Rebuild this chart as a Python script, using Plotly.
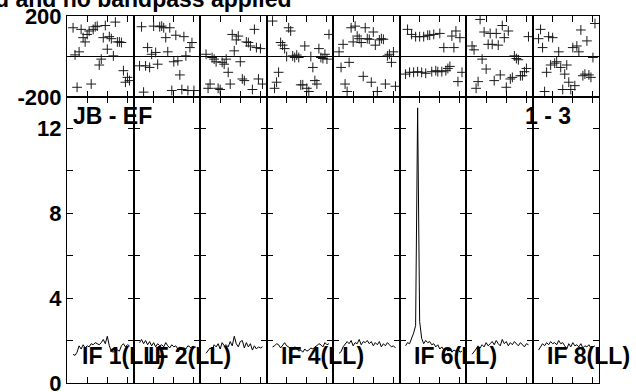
import plotly.graph_objects as go
from plotly.subplots import make_subplots

if_labels = ["IF 1(LL)", "IF 2(LL)", "", "IF 4(LL)", "", "IF 6(LL)", "", "IF 8(LL)"]
first_channel = 3

phase = [
    [142, 8, -152, 23, 134, 93, 72, 109, 126, -136, 134, 147, 150, -42, -13, 93, 153, 36, 98, 88, 3, 170, 72, 72, 69, -70, -127, -103, -119],
    [-46, 147, -176, -46, 44, -54, 11, 150, 20, -38, 147, 150, 142, 93, 23, 142, -168, -26, 105, -21, -91, -163, 98, 3, -168, 44, 69, -168],
    [11, -157, -136, -5, -13, -26, -157, -163, -29, -38, -13, -78, -136, 109, 28, 82, 101, -26, -111, -119, 72, 69, 52, -163, 134, 44, -111, 39, -136],
    [175, -157, -127, -78, 69, 56, 39, 0, 142, 126, 3, -5, 7, -5, -140, -140, 52, -157, -173, 0, -54, -119, -136, 39, -5, -10, 11, -13, 109],
    [23, -54, 60, -136, -173, -29, 142, 72, 150, 101, 88, 69, -98, 142, 88, 85, -127, 121, 56, -173, 82, 88, 85, -136, 3, 11, -29, 23, -147],
    [-87, 134, -78, 109, -78, 98, -75, 98, -78, 98, -83, 105, 105, -75, 109, -70, -75, 114, -75, 44, -70, -59, -49, 101, 44, 126, -124, 93, -78],
    [52, 33, -157, -124, 183, -13, 121, -62, 60, 114, 60, -119, 114, 56, -91, 153, 93, -152, 126, -111, -103, 3, -10, -16, -95, -95, -75, -59, 98],
    [88, 134, 44, -173, -78, 98, -42, 93, -33, -26, 23, -54, -163, -87, -42, -127, -163, 44, -144, 52, 23, 131, -95, -87, 77, -91, -103, -5, 163],
]

amplitude = [
    [1.35, 1.3, 1.45, 1.75, 1.6, 1.8, 1.65, 1.75, 1.7, 1.85, 1.8, 1.9, 1.85, 1.8, 1.9, 2.05, 1.85, 2.2, 1.75, 1.5, 1.45, 1.6, 1.55, 1.5, 1.75, 1.85, 1.7, 1.8, 1.75],
    [1.9, 2.05, 1.85, 2.0, 1.8, 1.95, 1.75, 1.9, 1.7, 1.85, 1.75, 1.8, 1.7, 1.9, 1.75, 1.65, 1.8, 1.7, 1.75, 1.6, 1.7, 1.55, 1.65, 1.6, 1.75, 1.7, 1.6, 1.65, 1.7],
    [1.4, 1.5, 1.65, 1.55, 1.8, 1.7, 1.85, 1.6, 1.9, 1.75, 1.8, 1.7, 1.95, 1.75, 2.2, 1.85, 1.7, 1.95, 2.0, 1.65, 1.9, 1.7, 1.85, 1.55, 1.75, 1.6, 1.7, 1.65, 1.7],
    [1.7, 1.75, 1.85, 1.8, 1.65, 1.8, 1.9, 1.75, 1.7, 1.6, 1.55, 1.7, 1.65, 1.5, 1.55, 1.45, 1.6, 1.5, 1.55, 1.65, 1.6, 1.7, 1.75, 1.85, 1.8, 1.7, 1.9, 1.8, 1.85],
    [1.4, 1.47, 1.7, 1.8, 1.95, 1.85, 2.0, 1.75, 1.9, 1.85, 2.05, 1.8, 1.95, 1.9, 2.0, 1.85, 1.95, 1.75, 1.9, 1.8, 1.95, 1.7, 1.85, 1.75, 1.9, 1.8, 1.7, 1.75, 1.65],
    [1.75, 1.9, 1.85, 2.1, 2.35, 2.7, 12.95, 2.9, 2.1, 1.85, 2.0, 1.9, 1.95, 1.8, 1.85, 1.7, 1.8, 1.6, 1.7, 1.55, 1.65, 1.5, 1.6, 1.45, 1.55, 1.5, 1.6, 1.45, 1.5],
    [1.35, 1.45, 1.6, 1.75, 1.65, 1.8, 1.7, 1.9, 1.75, 1.85, 1.95, 1.8, 2.0, 1.85, 1.75, 2.05, 1.85, 1.95, 1.75, 1.9, 1.8, 1.95, 1.85, 1.75, 1.9, 1.8, 1.7, 1.85, 1.8],
    [1.55, 1.7, 1.85, 1.75, 1.9, 1.8, 1.95, 1.85, 1.9, 1.8, 2.0, 1.85, 1.9, 1.75, 1.6, 1.85, 1.7, 1.9, 1.75, 1.8, 1.7, 1.85, 1.65, 1.75, 1.7, 1.8, 1.65, 1.7, 1.75],
]

phase_ticks = [-200, 0, 200]
phase_ticktext = ["-200", "", "200"]
amp_ticks = [0, 2, 4, 6, 8, 10, 12]
amp_ticktext = ["0", "", "4", "", "8", "", "12"]
chan_ticks = [10, 20, 30]

baseline_label = "JB - EF"
stokes_label = "1 - 3"
title_text = "d and no bandpass applied"

FONT = "Liberation Sans, Arial, Helvetica, sans-serif"
ncol = len(amplitude)

fig = make_subplots(rows=2, cols=ncol, horizontal_spacing=0, vertical_spacing=0,
                    row_heights=[81 / 367, 286 / 367])

for i in range(ncol):
    ch_p = list(range(first_channel, first_channel + len(phase[i])))
    ch_a = list(range(first_channel, first_channel + len(amplitude[i])))
    fig.add_trace(go.Scatter(x=ch_p, y=phase[i], mode="markers",
                             marker=dict(symbol="cross-thin", size=7,
                                         line=dict(color="#1a1a1a", width=1)),
                             showlegend=False, hoverinfo="skip"), row=1, col=i + 1)
    fig.add_trace(go.Scatter(x=ch_a, y=amplitude[i], mode="lines",
                             line=dict(color="black", width=1),
                             showlegend=False, hoverinfo="skip"), row=2, col=i + 1)

axis_common = dict(showline=True, linecolor="black", linewidth=1, mirror="ticks",
                   ticks="inside", ticklen=6, tickcolor="black", tickwidth=1,
                   showgrid=False, automargin=False)

for i in range(ncol):
    for r in (1, 2):
        fig.update_xaxes(range=[0, 33], tickvals=chan_ticks, showticklabels=False,
                         zeroline=False, row=r, col=i + 1, **axis_common)
    fig.update_yaxes(range=[-200, 200], tickvals=phase_ticks, ticktext=phase_ticktext,
                     showticklabels=(i == 0), zeroline=True, zerolinecolor="black",
                     zerolinewidth=1, row=1, col=i + 1, **axis_common)
    fig.update_yaxes(range=[0, 13.46], tickvals=amp_ticks, ticktext=amp_ticktext,
                     showticklabels=(i == 0), zeroline=False, row=2, col=i + 1,
                     **axis_common)

fig.update_yaxes(tickfont=dict(family=FONT, size=22, color="black", weight="bold"),
                 ticklabeloverflow="allow")

ann_font = dict(family=FONT, size=23, color="black", weight="bold")
annotations = []
for i, lab in enumerate(if_labels):
    if lab:
        annotations.append(dict(text=lab, x=6.4, y=1.27, xref=f"x{ncol + i + 1}",
                                yref=f"y{ncol + i + 1}", xanchor="left", yanchor="middle",
                                showarrow=False, font=ann_font))
annotations.append(dict(text=baseline_label, x=(71 - 67) / 532, y=(383 - 116) / 367,
                        xref="paper", yref="paper", xanchor="left", yanchor="middle",
                        showarrow=False, font=ann_font))
annotations.append(dict(text=stokes_label, x=(523 - 67) / 532, y=(383 - 116) / 367,
                        xref="paper", yref="paper", xanchor="left", yanchor="middle",
                        showarrow=False, font=ann_font))
annotations.append(dict(text=title_text, x=(293 - 67) / 532, y=(383 + 1.5) / 367,
                        xref="paper", yref="paper", xanchor="right", yanchor="middle",
                        showarrow=False, font=ann_font))

fig.update_layout(width=636, height=392, margin=dict(l=67, r=37, t=16, b=9),
                  paper_bgcolor="white", plot_bgcolor="white",
                  annotations=annotations, font=dict(family=FONT))

fig.write_html("out.html", config={"displayModeBar": False},
               post_script="document.body.style.margin='0';document.body.style.overflow='hidden';")
